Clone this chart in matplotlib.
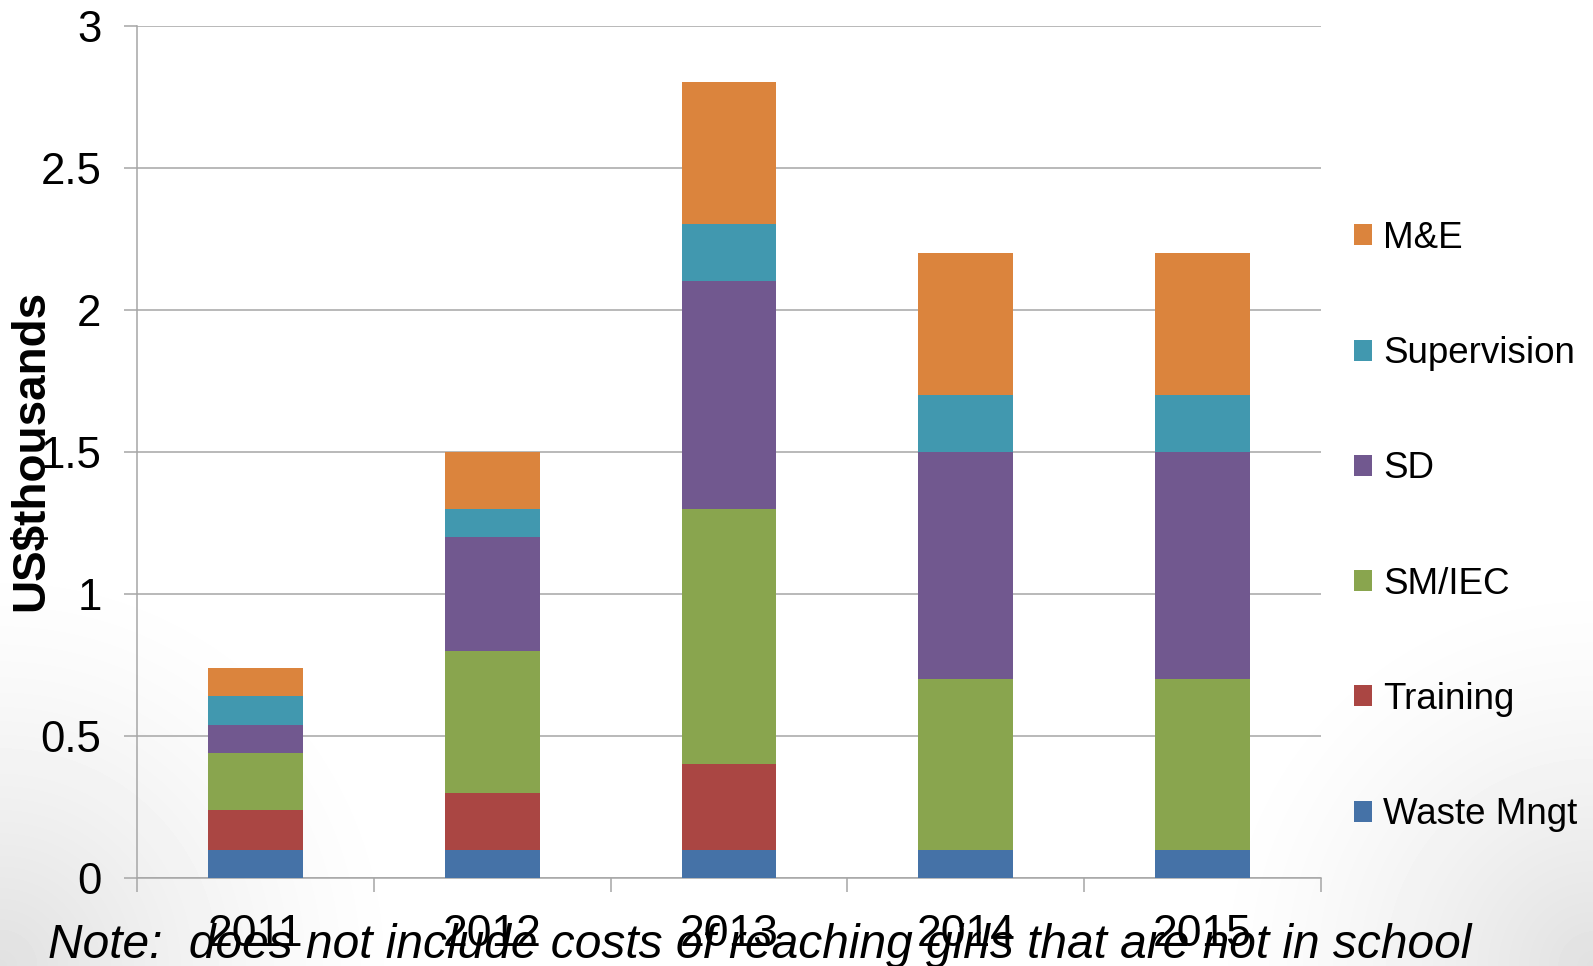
import numpy as np
import matplotlib
matplotlib.use("Agg")
import matplotlib.pyplot as plt

years = ["2011", "2012", "2013", "2014", "2015"]
categories = ["Waste Mngt", "Training", "SM/IEC", "SD", "Supervision", "M&E"]
waste_mngt = [0.1, 0.1, 0.1, 0.1, 0.1]
training = [0.14, 0.2, 0.3, 0.0, 0.0]
sm_iec = [0.2, 0.5, 0.9, 0.6, 0.6]
sd = [0.1, 0.4, 0.8, 0.8, 0.8]
supervision = [0.1, 0.1, 0.2, 0.2, 0.2]
m_and_e = [0.1, 0.2, 0.5, 0.5, 0.5]
colors = ["#4572A7", "#AA4643", "#89A54E", "#71588F", "#4198AF", "#DB843D"]
note = "Note:  does not include costs of reaching girls that are not in school"

plt.rcParams["font.family"] = ["Liberation Sans", "DejaVu Sans"]

W, H = 1593, 966
fig = plt.figure(figsize=(W / 100, H / 100), dpi=100)

# soft grey shading in the lower corners of the slide
bg = fig.add_axes([0, 0, 1, 1], zorder=-10)
yy, xx = np.mgrid[0:H, 0:W]
d_left = np.hypot(xx, H - yy)
d_right = np.hypot(W - xx, H - yy)
shade = np.maximum(np.clip(1 - d_left / 420, 0, 1), np.clip(1 - d_right / 400, 0, 1))
bg.imshow(1 - 0.12 * shade ** 1.4, cmap="gray", vmin=0, vmax=1, aspect="auto")
bg.axis("off")

ax = fig.add_axes([137 / W, 88 / H, (1321 - 137) / W, (878 - 25.5) / H])
ax.patch.set_alpha(0)

x = np.arange(len(years))
series = [waste_mngt, training, sm_iec, sd, supervision, m_and_e]
bottom = np.zeros(len(years))
handles = []
for name, vals, c in zip(categories, series, colors):
    b = ax.bar(x, vals, 0.4, bottom=bottom, color=c, label=name, zorder=3, linewidth=0)
    handles.append(b)
    bottom += np.array(vals)

grey = "#A6A6A6"
ax.set_xlim(-0.5, len(years) - 0.5)
ax.set_ylim(0, 3)
ax.set_yticks(np.arange(0, 3.01, 0.5))
ax.set_yticklabels(["0", "0.5", "1", "1.5", "2", "2.5", "3"])
ax.yaxis.grid(True, color=grey, linewidth=1.1, zorder=0)
ax.set_axisbelow(True)

ax.set_xticks(np.arange(-0.5, len(years), 1.0))
ax.set_xticklabels([])
ax.set_xticks(x, minor=True)
ax.set_xticklabels(years, minor=True)
ax.tick_params(axis="x", which="major", length=10, color=grey, width=1.1)
ax.tick_params(axis="x", which="minor", length=0, pad=26, labelsize=32)
ax.tick_params(axis="y", length=9.5, color=grey, width=1.1, pad=16, labelsize=31.5)

for side in ["top", "right"]:
    ax.spines[side].set_visible(False)
for side in ["left", "bottom"]:
    ax.spines[side].set_color(grey)
    ax.spines[side].set_linewidth(1.1)

ax.legend(handles[::-1], categories[::-1], loc="center left",
          bbox_to_anchor=(1354 / W, 1 - 526.5 / H), bbox_transform=fig.transFigure,
          frameon=False, fontsize=26.5, handlelength=0.5, handleheight=0.5,
          handletextpad=0.3, labelspacing=2.18, borderpad=0, borderaxespad=0)

fig.text(31 / W, 1 - 450 / H, "US$thousands", rotation=90, ha="center", va="center",
         fontsize=33, fontweight="bold")
fig.text(48 / W, 1 - 958 / H, note, ha="left", va="baseline", fontsize=34.5,
         fontstyle="italic")

fig.savefig("out.png", dpi=100)
